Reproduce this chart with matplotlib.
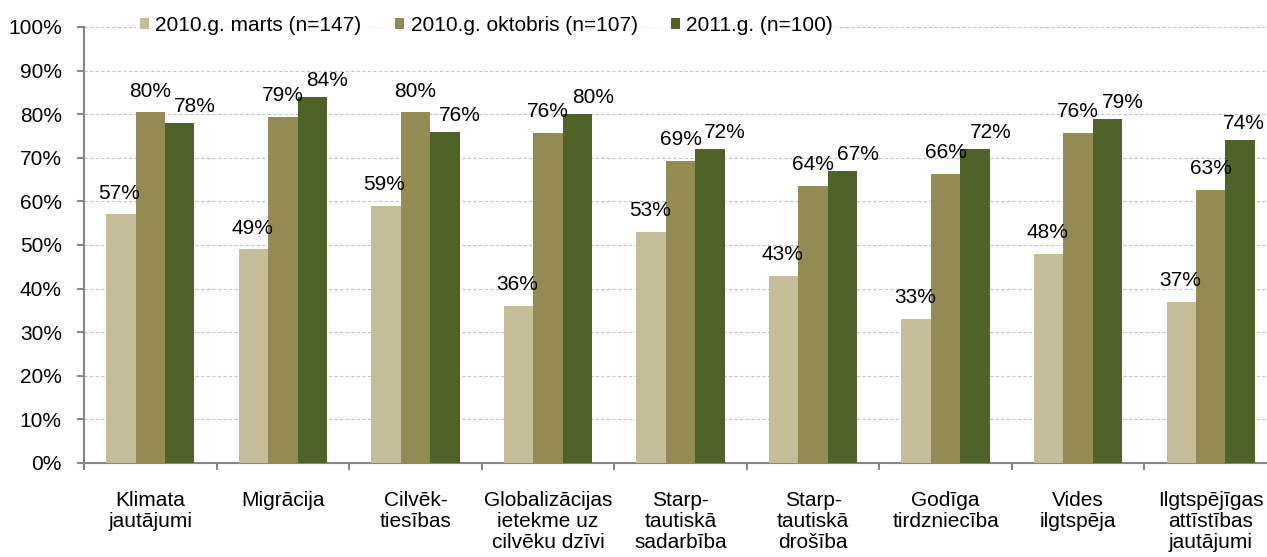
import matplotlib.pyplot as plt
import numpy as np

plt.rcParams['font.family'] = ['Liberation Sans', 'DejaVu Sans']

categories = ["Klimata\njautājumi", "Migrācija", "Cilvēk-\ntiesības",
              "Globalizācijas\nietekme uz\ncilvēku dzīvi", "Starp-\ntautiskā\nsadarbība",
              "Starp-\ntautiskā\ndrošība", "Godīga\ntirdzniecība", "Vides\nilgtspēja",
              "Ilgtspējīgas\nattīstības\njautājumi"]
series_names = ["2010.g. marts (n=147)", "2010.g. oktobris (n=107)", "2011.g. (n=100)"]
marts = [57, 49, 59, 36, 53, 43, 33, 48, 37]
oktobris = [80.4, 79.4, 80.4, 75.7, 69.2, 63.6, 66.3, 75.7, 62.6]
g2011 = [78, 84, 76, 80, 72, 67, 72, 79, 74]
colors = ["#C4BD97", "#948A54", "#4F6228"]

fs = 15
fig = plt.figure(figsize=(12.67, 5.57), dpi=100)
ax = fig.add_axes([84/1267, 1-463/557, (1277-84)/1267, (463-27)/557])

x = np.arange(len(categories))
w = 0.222
all_series = [marts, oktobris, g2011]
label_dx = [-1, 0, 11]
label_dy = [8.5, 8.5, 5]
labels = []
for i, vals in enumerate(all_series):
    bars = ax.bar(x + (i-1)*w, vals, w, color=colors[i], label=series_names[i], zorder=3)
    for b, v in zip(bars, vals):
        t = ax.annotate(f"{round(v)}%", (b.get_x() + b.get_width()/2, v),
                        xytext=(label_dx[i], label_dy[i]), textcoords="offset points",
                        ha="center", va="bottom", fontsize=fs, zorder=4)
        labels.append(t)

ax.set_xlim(-0.5, len(categories) - 0.5)
ax.set_ylim(0, 100)
ax.set_yticks(range(0, 101, 10))
ax.set_yticklabels([f"{v}%" for v in range(0, 101, 10)])
ax.yaxis.grid(True, color="#C4C4C4", linestyle=(0, (3, 2)), linewidth=0.8, zorder=0)

ax.set_xticks(x)
ax.set_xticklabels(categories, linespacing=1.15)
ax.set_xticks(np.arange(len(categories)) - 0.5, minor=True)
ax.tick_params(axis="x", which="major", length=0, pad=20, labelsize=fs)
ax.tick_params(axis="x", which="minor", length=5, color="#868686", width=1.5)
ax.tick_params(axis="y", length=5, color="#868686", width=1.5, pad=11, labelsize=fs)

for s in ["top", "right"]:
    ax.spines[s].set_visible(False)
for s in ["left", "bottom"]:
    ax.spines[s].set_color("#868686")
    ax.spines[s].set_linewidth(1.5)

leg = fig.legend(loc="center", bbox_to_anchor=(0.384, 0.955), ncol=3, fontsize=fs,
                 frameon=True, handlelength=0.45, handleheight=0.45, handletextpad=0.3,
                 columnspacing=1.6, borderpad=0.2)
leg.get_frame().set_facecolor("white")
leg.get_frame().set_edgecolor("none")

# keep value labels inside the figure (last one would run past the edge)
fig.canvas.draw()
r = fig.canvas.get_renderer()
W = fig.bbox.width
for t in labels:
    bb = t.get_window_extent(r)
    if bb.x1 > W - 1:
        dx, dy = t.xyann
        t.xyann = (dx - (bb.x1 - W + 2) * 72 / fig.dpi, dy)

fig.savefig("out.png", dpi=100)
